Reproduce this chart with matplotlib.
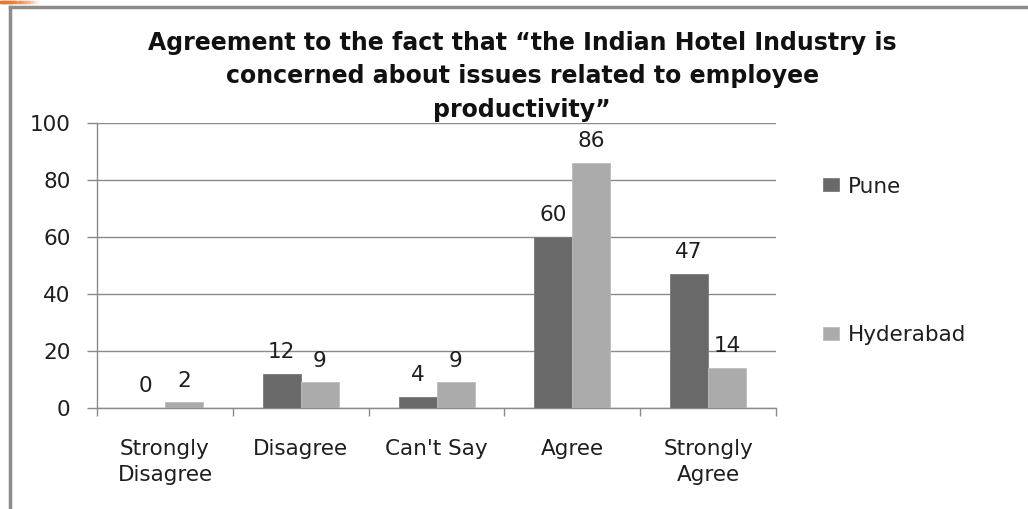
import numpy as np
import matplotlib
matplotlib.use("Agg")
import matplotlib.pyplot as plt
from matplotlib.lines import Line2D

plt.rcParams['font.family'] = ['DejaVu Sans']

categories = ["Strongly\nDisagree", "Disagree", "Can't Say", "Agree", "Strongly\nAgree"]
series_names = ["Pune", "Hyderabad"]
pune = [0, 12, 4, 60, 47]
hyderabad = [2, 9, 9, 86, 14]
yticks = [0, 20, 40, 60, 80, 100]
title = ("Agreement to the fact that \u201cthe Indian Hotel Industry is\n"
         "concerned about issues related to employee\n"
         "productivity\u201d")

dark = "#696969"
light = "#ababab"
axis_gray = "#8a8a8a"
text_col = "#1e1e1e"
fs = 15.5

fig = plt.figure(figsize=(10.28, 5.09), dpi=100)
ax = fig.add_axes([0.0944, 0.1984, 0.6605, 0.5599])

x = np.arange(len(categories))
w = 0.28
b1 = ax.bar(x - w / 2, pune, w, color=dark, edgecolor="#7a7a7a", linewidth=0.6,
            label=series_names[0], zorder=3)
b2 = ax.bar(x + w / 2, hyderabad, w, color=light, edgecolor="#bdbdbd", linewidth=0.6,
            label=series_names[1], zorder=3)

for bars, vals in ((b1, pune), (b2, hyderabad)):
    for r, v in zip(bars, vals):
        ax.annotate(f"{v}", (r.get_x() + r.get_width() / 2, v),
                    xytext=(0, 8.5), textcoords="offset points",
                    ha="center", va="bottom", fontsize=fs, color=text_col)

ax.set_xlim(-0.5, len(categories) - 0.5)
ax.set_ylim(0, 100)
ax.set_yticks(yticks)
ax.set_yticklabels([str(t) for t in yticks], fontsize=fs, color=text_col)
ax.set_xticks(x)
ax.set_xticklabels(categories, fontsize=fs, color=text_col, linespacing=1.42)
ax.set_xticks(np.arange(-0.5, len(categories)), minor=True)
ax.tick_params(axis="x", which="major", length=0, pad=22)
ax.tick_params(axis="x", which="minor", length=6, color=axis_gray, width=1)
ax.tick_params(axis="y", length=7, color=axis_gray, width=1, pad=12)

ax.grid(axis="y", color=axis_gray, linewidth=1, zorder=0)
for s in ("top", "right"):
    ax.spines[s].set_visible(False)
for s in ("left", "bottom"):
    ax.spines[s].set_color(axis_gray)
    ax.spines[s].set_linewidth(1)

fig.text(0.508, 0.94, title, ha="center", va="top", fontsize=17, fontweight="bold",
         linespacing=1.5, color="#111111")

leg = fig.legend(handles=[b1, b2], loc="upper left", bbox_to_anchor=(0.7925, 0.67),
                 frameon=False, fontsize=fs, handlelength=0.72, handleheight=0.55,
                 handletextpad=0.42, labelspacing=5.95, borderaxespad=0)
for t in leg.get_texts():
    t.set_color(text_col)

# frame around the slide region
fig.add_artist(Line2D([0.0097, 0.0097], [0.0, 0.986], transform=fig.transFigure,
                      color="#8c8c8c", linewidth=2.5))
fig.add_artist(Line2D([0.0097, 1.0], [0.986, 0.986], transform=fig.transFigure,
                      color="#8c8c8c", linewidth=2.5))
# small orange accent in the corner
for i in range(12):
    x0 = i * 0.003
    fig.add_artist(Line2D([x0, x0 + 0.003], [0.997, 0.997], transform=fig.transFigure,
                          color="#e8762c", linewidth=2.5, alpha=1 - i / 12))

fig.savefig("out.png", dpi=100, facecolor="white")
